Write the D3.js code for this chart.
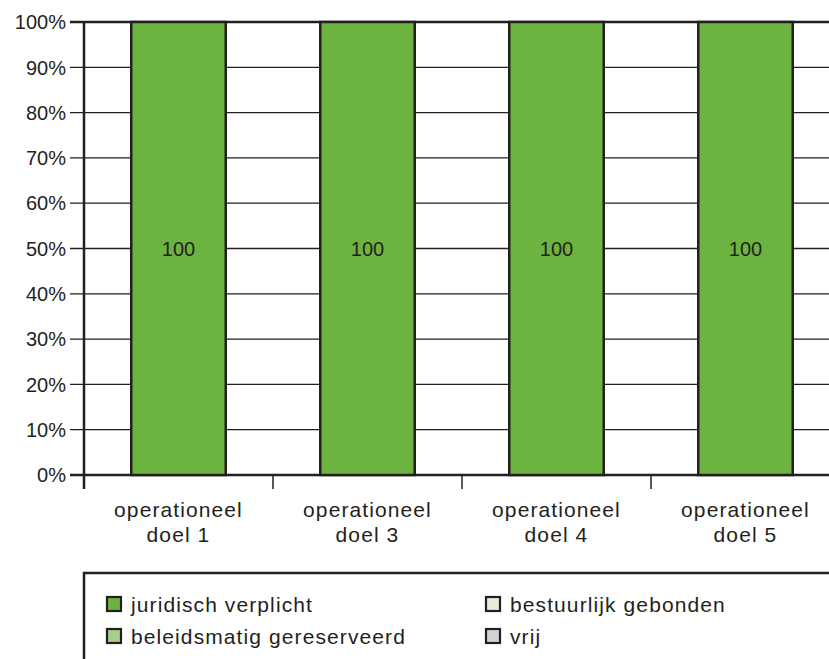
<!DOCTYPE html>
<html>
<head>
<meta charset="utf-8">
<script src="https://cdn.jsdelivr.net/npm/d3@7"></script>
<style>
  body { margin: 0; background: #fff; }
  text { font-family: "Liberation Sans", Arial, sans-serif; fill: #231f20; }
  .words { letter-spacing: 1.1px; }
</style>
</head>
<body>
<div id="chart"></div>
<script>
// chart data
var categories = ["operationeel doel 1", "operationeel doel 3", "operationeel doel 4", "operationeel doel 5"];
var juridisch = [100, 100, 100, 100];
var yTicks = [0, 10, 20, 30, 40, 50, 60, 70, 80, 90, 100];
var legendNames = ["juridisch verplicht", "beleidsmatig gereserveerd", "bestuurlijk gebonden", "vrij"];
var legendColors = ["#6db33f", "#a8d08d", "#e3efd9", "#d1d3d4"];

var svgWidth = 829;
var svgHeight = 659;
var ink = "#231f20";

var svg = d3.select("#chart")
  .append("svg")
  .attr("width", svgWidth)
  .attr("height", svgHeight);

var plotLeft = 84, plotTop = 22, plotBottom = 475;

var x = d3.scaleBand()
  .domain(categories)
  .range([plotLeft, plotLeft + 4 * 189])
  .paddingInner(0.5)
  .paddingOuter(0.25);

var y = d3.scaleLinear()
  .domain([0, 100])
  .range([plotBottom, plotTop]);

// grid lines
svg.append("g").selectAll("line")
  .data(yTicks)
  .enter()
  .append("line")
  .attr("x1", plotLeft - 14)
  .attr("x2", svgWidth)
  .attr("y1", d => y(d))
  .attr("y2", d => y(d))
  .attr("stroke", ink)
  .attr("stroke-width", d => (d === 0 || d === 100) ? 2.5 : 1.3);

// y tick labels
svg.append("g").selectAll("text")
  .data(yTicks)
  .enter()
  .append("text")
  .attr("x", 66)
  .attr("y", d => y(d))
  .attr("dy", "0.36em")
  .attr("text-anchor", "end")
  .attr("font-size", 20)
  .text(d => d + "%");

// left axis line
svg.append("line")
  .attr("x1", plotLeft).attr("x2", plotLeft)
  .attr("y1", plotTop).attr("y2", plotBottom + 14)
  .attr("stroke", ink)
  .attr("stroke-width", 2.5);

// bottom ticks between categories
svg.append("g").selectAll("line")
  .data(categories)
  .enter()
  .append("line")
  .attr("x1", d => x(d) - x.step() * 0.25)
  .attr("x2", d => x(d) - x.step() * 0.25)
  .attr("y1", plotBottom)
  .attr("y2", plotBottom + 14)
  .attr("stroke", ink)
  .attr("stroke-width", 1.5);

// bars
svg.append("g").selectAll("rect")
  .data(juridisch)
  .enter()
  .append("rect")
  .attr("x", (d, i) => x(categories[i]))
  .attr("y", d => y(d))
  .attr("width", x.bandwidth())
  .attr("height", d => plotBottom - y(d))
  .attr("fill", legendColors[0])
  .attr("stroke", ink)
  .attr("stroke-width", 2.5);

// value labels
svg.append("g").selectAll("text")
  .data(juridisch)
  .enter()
  .append("text")
  .attr("x", (d, i) => x(categories[i]) + x.bandwidth() / 2)
  .attr("y", d => y(d / 2))
  .attr("dy", "0.36em")
  .attr("text-anchor", "middle")
  .attr("font-size", 20)
  .text(d => d);

// category labels, two lines
var catLabels = svg.append("g").selectAll("text")
  .data(categories)
  .enter()
  .append("text")
  .attr("class", "words")
  .attr("text-anchor", "middle")
  .attr("font-size", 21);

catLabels.append("tspan")
  .attr("x", d => x(d) + x.bandwidth() / 2)
  .attr("y", 517)
  .text("operationeel");

catLabels.append("tspan")
  .attr("x", d => x(d) + x.bandwidth() / 2)
  .attr("y", 542)
  .text(d => d.replace("operationeel ", ""));

// legend frame
svg.append("path")
  .attr("d", `M${plotLeft},${svgHeight} V573 H${svgWidth}`)
  .attr("fill", "none")
  .attr("stroke", ink)
  .attr("stroke-width", 2.5);

var legendPos = [[107, 604], [107, 636], [486, 604], [486, 636]];

var legend = svg.append("g").selectAll("g")
  .data(legendNames)
  .enter()
  .append("g")
  .attr("transform", (d, i) => `translate(${legendPos[i][0]}, ${legendPos[i][1]})`);

legend.append("rect")
  .attr("x", 0)
  .attr("y", -7)
  .attr("width", 14)
  .attr("height", 14)
  .attr("fill", (d, i) => legendColors[i])
  .attr("stroke", ink)
  .attr("stroke-width", 2.2);

legend.append("text")
  .attr("class", "words")
  .attr("x", 24)
  .attr("y", 0)
  .attr("dy", "0.36em")
  .attr("font-size", 21)
  .text(d => d);
</script>
</body>
</html>
